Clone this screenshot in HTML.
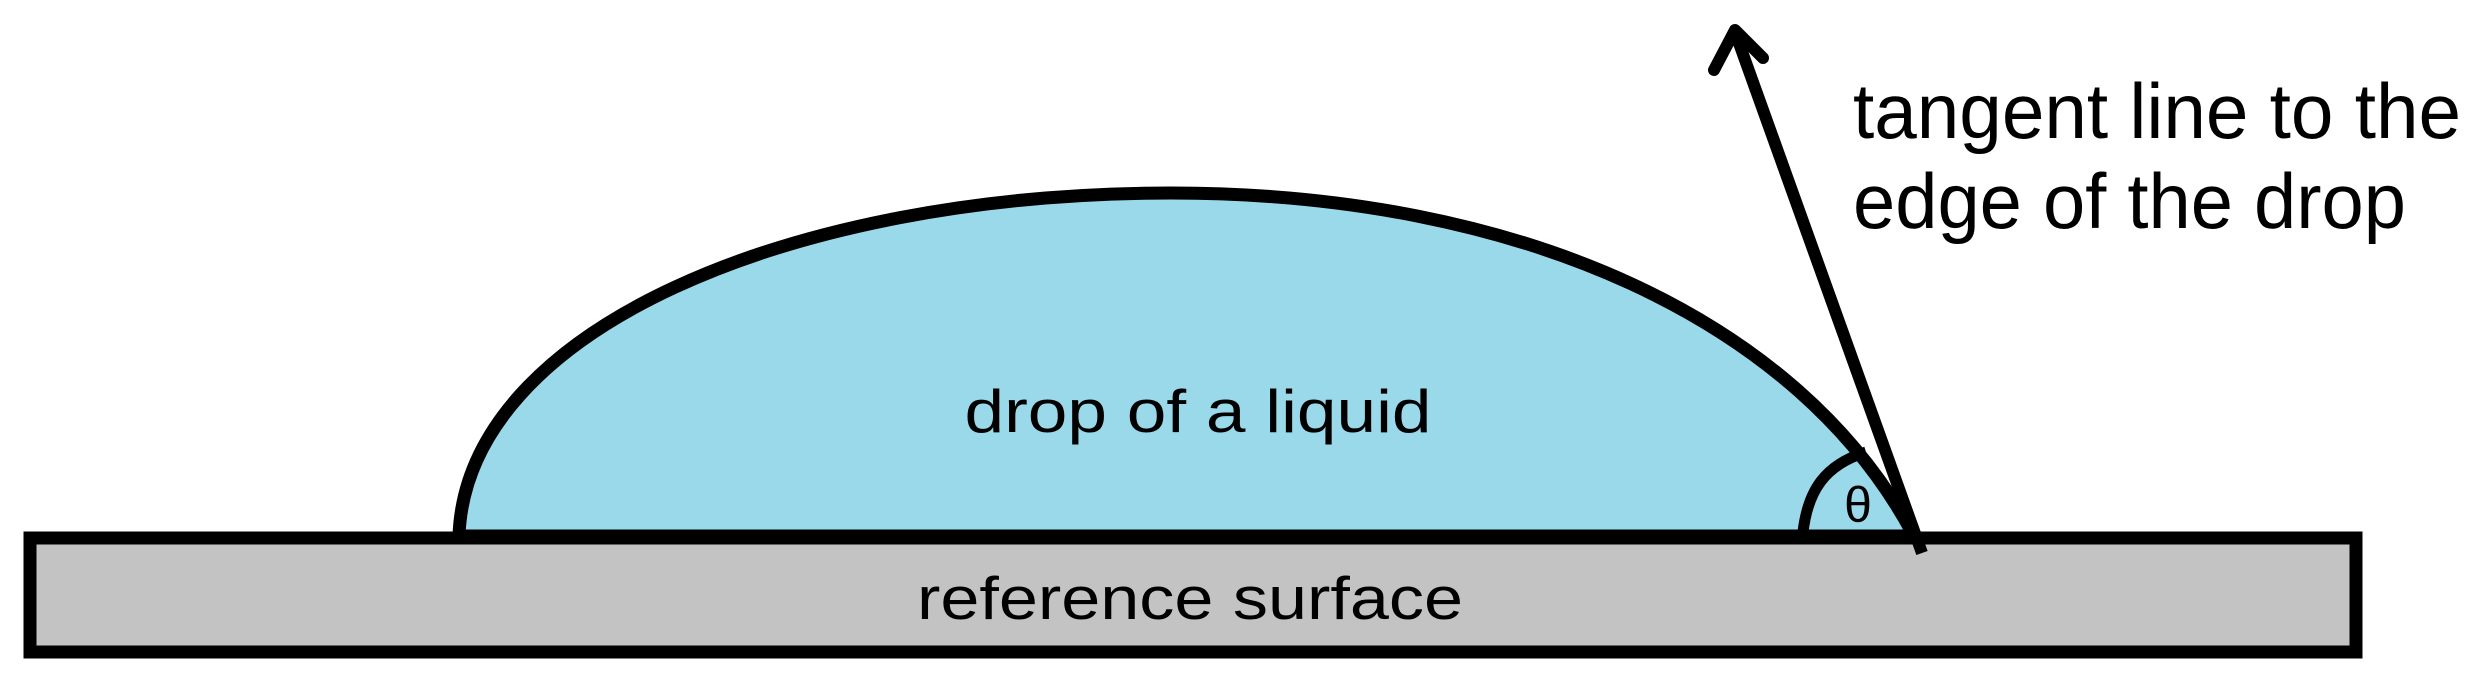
<!DOCTYPE html>
<html><head><meta charset="utf-8"><style>html,body{margin:0;padding:0;background:#fff}svg{display:block}</style></head>
<body>
<svg width="2480" height="691" viewBox="0 0 2480 691" xmlns="http://www.w3.org/2000/svg">
<path d="M459,536 C466,330 790,193 1171,193 C1520,193 1800,320 1914,536 Z" fill="#9ad9e9" stroke="#000" stroke-width="13"/>
<rect x="30" y="538" width="2326" height="114" fill="#c3c3c3" stroke="#000" stroke-width="13"/>
<path d="M1803,532 C1808,490 1825,465 1866,452" fill="none" stroke="#000" stroke-width="11"/>
<line x1="1922" y1="553" x2="1735" y2="32" stroke="#000" stroke-width="12"/>
<polyline points="1714,70 1735,30 1763,58" fill="none" stroke="#000" stroke-width="12" stroke-linecap="round" stroke-linejoin="round"/>
<g font-family="Liberation Sans, sans-serif" fill="#000">
<text x="1198" y="432" font-size="60" text-anchor="middle" textLength="467" lengthAdjust="spacingAndGlyphs">drop of a liquid</text>
<text x="1190" y="619" font-size="60" text-anchor="middle" textLength="546" lengthAdjust="spacingAndGlyphs">reference surface</text>
<text x="1853" y="138" font-size="78" textLength="608" lengthAdjust="spacingAndGlyphs">tangent line to the</text>
<text x="1853" y="228" font-size="78" textLength="553" lengthAdjust="spacingAndGlyphs">edge of the drop</text>
<text x="1858" y="522" font-size="50" text-anchor="middle">θ</text>
</g>
</svg>
</body></html>
